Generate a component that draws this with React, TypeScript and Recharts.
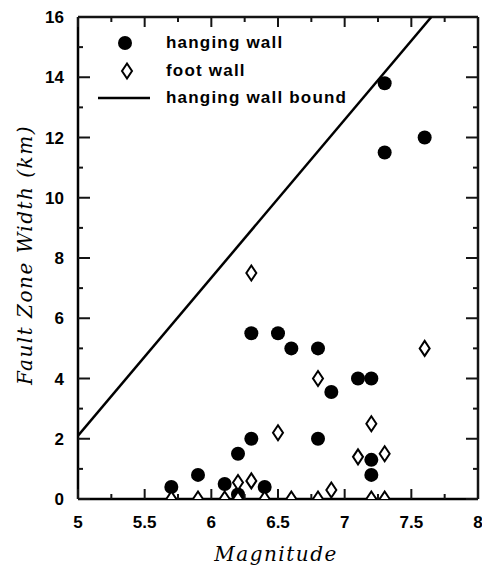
import React from 'react';
import { ScatterChart, Scatter, XAxis, YAxis } from 'recharts';

const hangingMag = [5.7, 5.9, 6.1, 6.2, 6.2, 6.3, 6.4, 6.3, 6.5, 6.6, 6.8, 6.8, 6.9, 7.1, 7.2, 7.2, 7.2, 7.3, 7.3, 7.6];
const hangingWidth = [0.4, 0.8, 0.5, 0.15, 1.5, 2.0, 0.4, 5.5, 5.5, 5.0, 5.0, 2.0, 3.55, 4.0, 4.0, 1.3, 0.8, 13.8, 11.5, 12.0];

const footMag = [5.7, 5.9, 6.1, 6.2, 6.2, 6.3, 6.3, 6.4, 6.5, 6.6, 6.8, 6.8, 6.9, 7.1, 7.2, 7.2, 7.3, 7.3, 7.6];
const footWidth = [0.0, 0.0, 0.0, 0.0, 0.55, 0.6, 7.5, 0.0, 2.2, 0.0, 0.0, 4.0, 0.3, 1.4, 2.5, 0.0, 0.0, 1.5, 5.0];

const boundMag = [5, 7.65];
const boundWidth = [2.1, 16];

const xMajorTicks = [5, 5.5, 6, 6.5, 7, 7.5, 8];
const xMinorTicks = [5.25, 5.75, 6.25, 6.75, 7.25, 7.75];
const yMajorTicks = [0, 2, 4, 6, 8, 10, 12, 14, 16];
const yMinorTicks = [1, 3, 5, 7, 9, 11, 13, 15];

const legendLabels = ['hanging wall', 'foot wall', 'hanging wall bound'];

const hanging = hangingMag.map((m, i) => ({ x: m, y: hangingWidth[i] }));
const foot = footMag.map((m, i) => ({ x: m, y: footWidth[i] }));
const bound = boundMag.map((m, i) => ({ x: m, y: boundWidth[i] }));

const xTicks = [...xMajorTicks, ...xMinorTicks].sort((a, b) => a - b);
const yTicks = [...yMajorTicks, ...yMinorTicks].sort((a, b) => a - b);

const TICK_FONT = '"Liberation Sans", Arial, sans-serif';
const TITLE_FONT = '"DejaVu Serif", serif';
const STROKE = 2.5;
const INK = '#000';
const FRAME = '#141414';

const Circle = (props: any) => {
  const { cx, cy } = props;
  if (cx == null || cy == null) return <g />;
  return <circle cx={cx} cy={cy} r={7} fill={INK} />;
};

const Diamond = (props: any) => {
  const { cx, cy } = props;
  if (cx == null || cy == null) return <g />;
  return (
    <path
      d={`M${cx},${cy - 7.5} L${cx + 5},${cy} L${cx},${cy + 7.5} L${cx - 5},${cy} Z`}
      fill="#fff"
      stroke={INK}
      strokeWidth={2}
    />
  );
};

const NoShape = () => <g />;

const makeXTick = (dir: number, showLabel: boolean) => (props: any) => {
  const { x, y, payload } = props;
  const v = Number(payload.value);
  const major = xMajorTicks.some((t) => Math.abs(t - v) < 1e-6);
  const len = major ? 10 : 5;
  const yy = Number(y);
  const xx = Number(x);
  return (
    <g>
      <path d={`M${xx},${yy}L${xx},${yy - dir * len}`} stroke={FRAME} strokeWidth={2} fill="none" />
      {showLabel && major && (
        <text x={xx} y={yy + 29} textAnchor="middle" fontFamily={TICK_FONT} fontWeight="bold" fontSize={17} fill={INK}>
          {payload.value}
        </text>
      )}
    </g>
  );
};

const makeYTick = (dir: number, showLabel: boolean) => (props: any) => {
  const { x, y, payload } = props;
  const v = Number(payload.value);
  const major = yMajorTicks.some((t) => Math.abs(t - v) < 1e-6);
  const len = major ? 12 : 5;
  const yy = Number(y);
  const xx = Number(x);
  return (
    <g>
      <path d={`M${xx},${yy}L${xx + dir * len},${yy}`} stroke={FRAME} strokeWidth={2} fill="none" />
      {showLabel && major && (
        <text x={xx - 14} y={yy + 6} textAnchor="end" fontFamily={TICK_FONT} fontWeight="bold" fontSize={17} fill={INK}>
          {payload.value}
        </text>
      )}
    </g>
  );
};

export default function App() {
  return (
    <div style={{ position: 'absolute', left: 0, top: 0, width: 482, height: 568, background: '#fff' }}>
      <ScatterChart width={482} height={568} margin={{ top: 16, right: 3, bottom: 0, left: 0 }}>
        <XAxis
          xAxisId={0}
          dataKey="x"
          type="number"
          domain={[5, 8]}
          ticks={xTicks}
          interval={0}
          allowDataOverflow
          height={69}
          tickSize={0}
          tickMargin={0}
          tick={makeXTick(1, true)}
          axisLine={{ stroke: INK, strokeWidth: STROKE }}
          tickLine={false}
        />
        <XAxis
          xAxisId="top"
          orientation="top"
          dataKey="x"
          type="number"
          domain={[5, 8]}
          ticks={xTicks}
          interval={0}
          allowDataOverflow
          height={1}
          tickSize={0}
          tickMargin={0}
          tick={makeXTick(-1, false)}
          axisLine={{ stroke: FRAME, strokeWidth: STROKE }}
          tickLine={false}
        />
        <YAxis
          yAxisId={0}
          dataKey="y"
          type="number"
          domain={[0, 16]}
          ticks={yTicks}
          interval={0}
          allowDataOverflow
          width={78}
          tickSize={0}
          tickMargin={0}
          tick={makeYTick(1, true)}
          axisLine={{ stroke: INK, strokeWidth: STROKE }}
          tickLine={false}
        />
        <YAxis
          yAxisId="right"
          orientation="right"
          dataKey="y"
          type="number"
          domain={[0, 16]}
          ticks={yTicks}
          interval={0}
          allowDataOverflow
          width={1}
          tickSize={0}
          tickMargin={0}
          tick={makeYTick(-1, false)}
          axisLine={{ stroke: FRAME, strokeWidth: STROKE }}
          tickLine={false}
        />
        <Scatter
          name="mirror"
          data={bound}
          xAxisId="top"
          yAxisId="right"
          shape={NoShape}
          legendType="none"
          isAnimationActive={false}
        />
        <Scatter
          name="hanging wall bound"
          data={bound}
          xAxisId={0}
          yAxisId={0}
          line={{ stroke: INK, strokeWidth: STROKE }}
          shape={NoShape}
          isAnimationActive={false}
        />
        <Scatter name="hanging wall" data={hanging} xAxisId={0} yAxisId={0} shape={Circle} isAnimationActive={false} />
        <Scatter name="foot wall" data={foot} xAxisId={0} yAxisId={0} shape={Diamond} isAnimationActive={false} />
      </ScatterChart>
      <svg width={330} height={90} style={{ position: 'absolute', left: 90, top: 28 }}>
        <circle cx={35} cy={15} r={7} fill={INK} />
        <path d="M37,35.5 L42,43 L37,50.5 L32,43 Z" fill="#fff" stroke={INK} strokeWidth={2} />
        <line x1={8} x2={60} y1={70} y2={70} stroke={INK} strokeWidth={STROKE} />
        {legendLabels.map((t, i) => (
          <text
            key={t}
            x={76}
            y={[15, 43, 70][i] + 5}
            fontFamily={TICK_FONT}
            fontWeight="bold"
            fontSize={17}
            letterSpacing={1.2}
            fill={INK}
          >
            {t}
          </text>
        ))}
      </svg>
      <div
        style={{
          position: 'absolute',
          left: 25,
          top: 255,
          transform: 'translate(-50%, -50%) rotate(-90deg)',
          whiteSpace: 'nowrap',
          fontFamily: TITLE_FONT,
          fontStyle: 'italic',
          fontSize: 20,
          letterSpacing: 1.5,
          color: INK,
        }}
      >
        Fault Zone Width (km)
      </div>
      <div
        style={{
          position: 'absolute',
          left: 276,
          top: 554,
          transform: 'translate(-50%, -50%)',
          whiteSpace: 'nowrap',
          fontFamily: TITLE_FONT,
          fontStyle: 'italic',
          fontSize: 20,
          letterSpacing: 1.5,
          color: INK,
        }}
      >
        Magnitude
      </div>
    </div>
  );
}
